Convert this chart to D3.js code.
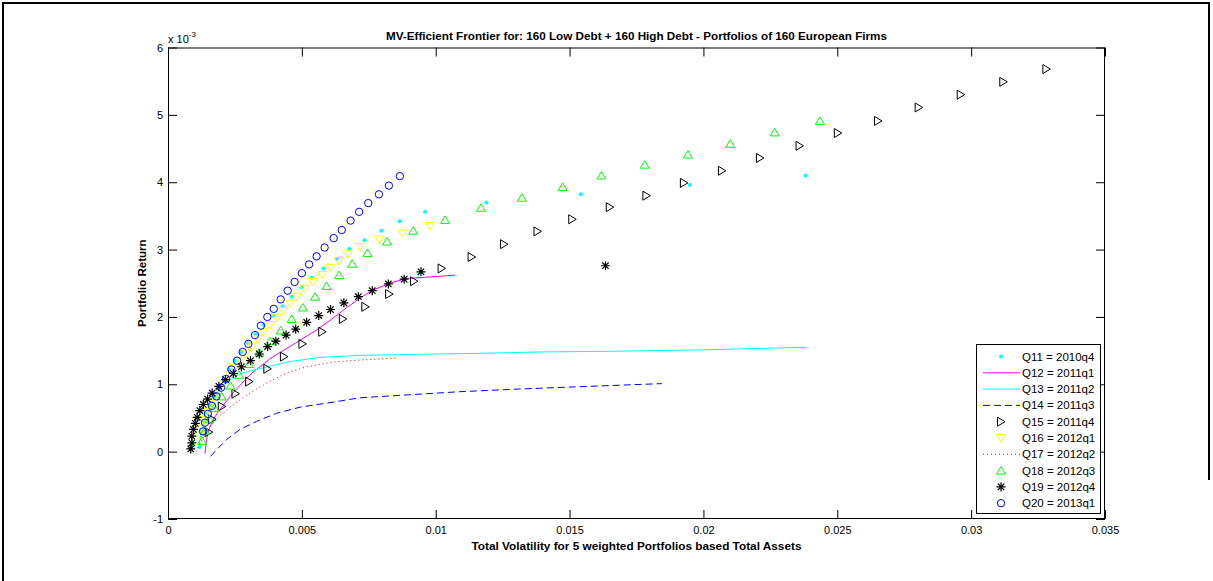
<!DOCTYPE html>
<html>
<head>
<meta charset="utf-8">
<script src="https://cdn.jsdelivr.net/npm/d3@7"></script>
<style>
  body { margin: 0; background: #fff; }
  svg { display: block; font-family: Arial, "Liberation Sans", sans-serif; }
  .tick text { font-size: 11px; fill: #000; }
  .tick line { stroke: #000; }
</style>
</head>
<body>
<svg id="chart" width="1213" height="581"></svg>
<script>
// returns are in units of 1e-3 (axis multiplier "x 10^-3")
let xTicks = [0, 0.005, 0.01, 0.015, 0.02, 0.025, 0.03, 0.035]
let xTickLabels = ["0", "0.005", "0.01", "0.015", "0.02", "0.025", "0.03", "0.035"]
let yTicks = [-1, 0, 1, 2, 3, 4, 5, 6]
let yTickLabels = ["-1", "0", "1", "2", "3", "4", "5", "6"]

let seriesNames = ["Q11 = 2010q4", "Q12 = 2011q1", "Q13 = 2011q2", "Q14 = 2011q3", "Q15 = 2011q4",
                   "Q16 = 2012q1", "Q17 = 2012q2", "Q18 = 2012q3", "Q19 = 2012q4", "Q20 = 2013q1"]

let q11 = [[0.00118,0.07],[0.00123,0.30],[0.00131,0.43],[0.00142,0.56],[0.00155,0.68],[0.00172,0.82],
  [0.00189,0.95],[0.00207,1.08],[0.00228,1.22],[0.00250,1.35],[0.00273,1.48],[0.00299,1.61],[0.00327,1.74],
  [0.00358,1.88],[0.00393,2.02],[0.00428,2.16],[0.00463,2.30],[0.00499,2.44],[0.00538,2.58],[0.00581,2.72],
  [0.00630,2.86],[0.00677,3.01],[0.00734,3.14],[0.00797,3.28],[0.00866,3.42],[0.00960,3.56],[0.01189,3.70],
  [0.01542,3.82],[0.01949,3.96],[0.02382,4.10]]

let q12 = [[0.00138,-0.03],[0.00144,0.18],[0.00153,0.33],[0.00168,0.47],[0.00187,0.59],[0.00205,0.68],
  [0.00228,0.80],[0.00254,0.92],[0.00284,1.05],[0.00314,1.17],[0.00347,1.27],[0.00381,1.38],[0.00422,1.48],
  [0.00467,1.59],[0.00512,1.70],[0.00556,1.81],[0.00609,1.96],[0.00665,2.13],[0.00717,2.28],[0.00766,2.40],
  [0.00829,2.50],[0.00889,2.57],[0.00963,2.59],[0.01072,2.62]]

let q13 = [[0.00116,0.09],[0.00123,0.27],[0.00138,0.46],[0.00157,0.65],[0.00179,0.83],[0.00217,1.04],
  [0.00280,1.17],[0.00351,1.24],[0.00444,1.33],[0.00568,1.40],[0.00717,1.43],[0.00866,1.44],[0.01016,1.45],
  [0.01165,1.46],[0.01389,1.48],[0.01662,1.49],[0.01987,1.51],[0.02386,1.55]]

let q14 = [[0.00159,-0.07],[0.00182,0.03],[0.00219,0.18],[0.00269,0.33],[0.00331,0.45],[0.00406,0.57],
  [0.00493,0.66],[0.00593,0.72],[0.00717,0.80],[0.00841,0.83],[0.00966,0.86],[0.01090,0.89],[0.01314,0.93],
  [0.01576,0.97],[0.01845,1.01]]

let q15 = [[0.00152,0.29],[0.00165,0.48],[0.00201,0.67],[0.00252,0.86],[0.00303,1.04],[0.00371,1.23],
  [0.00433,1.41],[0.00502,1.60],[0.00576,1.78],[0.00653,1.97],[0.00737,2.15],[0.00826,2.34],[0.00919,2.53],
  [0.01022,2.72],[0.01134,2.89],[0.01255,3.08],[0.01380,3.27],[0.01510,3.45],[0.01650,3.63],[0.01787,3.80],
  [0.01927,3.99],[0.02069,4.17],[0.02211,4.36],[0.02359,4.54],[0.02502,4.73],[0.02652,4.91],[0.02804,5.11],
  [0.02961,5.30],[0.03120,5.49],[0.03281,5.68]]

let q16 = [[0.00119,0.24],[0.00125,0.36],[0.00133,0.47],[0.00144,0.59],[0.00157,0.70],[0.00172,0.81],
  [0.00189,0.92],[0.00209,1.02],[0.00228,1.13],[0.00250,1.24],[0.00273,1.35],[0.00293,1.46],[0.00314,1.56],
  [0.00336,1.67],[0.00357,1.78],[0.00381,1.88],[0.00406,1.99],[0.00431,2.09],[0.00456,2.20],[0.00481,2.30],
  [0.00509,2.42],[0.00541,2.52],[0.00575,2.62],[0.00605,2.73],[0.00638,2.83],[0.00671,2.93],[0.00717,3.04],
  [0.00789,3.15],[0.00876,3.24],[0.00978,3.35]]

let q17 = [[0.00105,0.00],[0.00119,0.12],[0.00138,0.24],[0.00157,0.37],[0.00180,0.47],[0.00201,0.55],
  [0.00244,0.70],[0.00306,0.87],[0.00369,1.02],[0.00443,1.17],[0.00518,1.26],[0.00617,1.33],[0.00717,1.36],
  [0.00854,1.39]]

let q18 = [[0.00127,0.16],[0.00138,0.31],[0.00155,0.48],[0.00174,0.65],[0.00200,0.82],[0.00233,0.98],
  [0.00266,1.14],[0.00303,1.30],[0.00341,1.47],[0.00381,1.64],[0.00421,1.80],[0.00462,1.97],[0.00504,2.14],
  [0.00549,2.30],[0.00592,2.46],[0.00639,2.62],[0.00688,2.79],[0.00745,2.95],[0.00818,3.12],[0.00916,3.28],
  [0.01035,3.44],[0.01169,3.62],[0.01322,3.77],[0.01474,3.93],[0.01619,4.10],[0.01781,4.26],[0.01942,4.41],
  [0.02100,4.57],[0.02266,4.74],[0.02435,4.91]]

let q19 = [[0.00085,0.04],[0.00089,0.13],[0.00089,0.23],[0.00095,0.33],[0.00102,0.42],[0.00109,0.51],
  [0.00119,0.61],[0.00132,0.70],[0.00148,0.78],[0.00165,0.87],[0.00190,0.97],[0.00215,1.07],[0.00244,1.16],
  [0.00274,1.26],[0.00308,1.35],[0.00341,1.45],[0.00372,1.56],[0.00403,1.64],[0.00441,1.73],[0.00477,1.82],
  [0.00518,1.92],[0.00563,2.02],[0.00607,2.11],[0.00657,2.21],[0.00711,2.30],[0.00763,2.39],[0.00823,2.49],
  [0.00882,2.56],[0.00945,2.67],[0.01634,2.76]]

let q20 = [[0.00131,0.30],[0.00138,0.43],[0.00149,0.56],[0.00164,0.68],[0.00181,0.82],[0.00198,0.95],
  [0.00217,1.08],[0.00237,1.22],[0.00258,1.35],[0.00279,1.48],[0.00300,1.60],[0.00325,1.73],[0.00347,1.87],
  [0.00371,2.00],[0.00395,2.12],[0.00421,2.26],[0.00447,2.39],[0.00473,2.52],[0.00500,2.65],[0.00527,2.78],
  [0.00555,2.90],[0.00585,3.03],[0.00619,3.17],[0.00649,3.29],[0.00682,3.43],[0.00714,3.56],[0.00748,3.69],
  [0.00788,3.82],[0.00825,3.95],[0.00866,4.09]]

// plot style per series, in plotting order
let series = [
  { name: seriesNames[0], data: q11, color: "#00ffff", marker: "dot" },
  { name: seriesNames[1], data: q12, color: "#ff00ff", line: "solid" },
  { name: seriesNames[2], data: q13, color: "#00ffff", line: "solid" },
  { name: seriesNames[3], data: q14, color: "#0000ff", line: "dashed" },
  { name: seriesNames[4], data: q15, color: "#000000", marker: "right" },
  { name: seriesNames[5], data: q16, color: "#ffff00", marker: "down" },
  { name: seriesNames[6], data: q17, color: "#ff0000", line: "dotted" },
  { name: seriesNames[7], data: q18, color: "#00ff00", marker: "up" },
  { name: seriesNames[8], data: q19, color: "#000000", marker: "star" },
  { name: seriesNames[9], data: q20, color: "#0000ff", marker: "circle" }
]

let axLeft = 168, axRight = 1105, axTop = 47.5, axBottom = 519
let tickLen = 9

let x = d3.scaleLinear().domain([0, 0.035]).range([axLeft, axRight])
let y = d3.scaleLinear().domain([-1, 6]).range([axBottom, axTop])

let svg = d3.select("#chart")

// figure frame
svg.append("path")
   .attr("d", "M3,581V3H1209V480")
   .attr("fill", "none")
   .attr("stroke", "#000")
   .attr("stroke-width", 2)

// axes with inward ticks (box on)
let gx = svg.append("g").attr("transform", "translate(0," + axBottom + ")")
  .call(d3.axisBottom(x).tickValues(xTicks).tickFormat((d, i) => xTickLabels[i])
        .tickSizeInner(-tickLen).tickSizeOuter(0).tickPadding(7))
let gxTop = svg.append("g").attr("transform", "translate(0," + axTop + ")")
  .call(d3.axisTop(x).tickValues(xTicks).tickFormat("").tickSizeInner(-tickLen).tickSizeOuter(0))
let gy = svg.append("g").attr("transform", "translate(" + axLeft + ",0)")
  .call(d3.axisLeft(y).tickValues(yTicks).tickFormat((d, i) => yTickLabels[i])
        .tickSizeInner(-tickLen).tickSizeOuter(0).tickPadding(5))
let gyRight = svg.append("g").attr("transform", "translate(" + axRight + ",0)")
  .call(d3.axisRight(y).tickValues(yTicks).tickFormat("").tickSizeInner(-tickLen).tickSizeOuter(0))
;[gx, gxTop, gy, gyRight].forEach(g => g.select(".domain").remove())
gx.selectAll("text").attr("dy", "0.71em")

svg.append("rect")
   .attr("x", axLeft + 0.5).attr("y", axTop + 0.5)
   .attr("width", axRight - axLeft - 1).attr("height", axBottom - axTop - 1)
   .attr("fill", "none").attr("stroke", "#000")

// exponent label
let expo = svg.append("text").attr("x", axLeft).attr("y", 43).attr("font-size", 11)
expo.append("tspan").text("x 10")
expo.append("tspan").attr("dy", -6).attr("font-size", 8).text("-3")

// title and axis labels
svg.append("text")
   .attr("x", (axLeft + axRight) / 2).attr("y", 39.5)
   .attr("text-anchor", "middle").attr("font-size", 11.7).attr("font-weight", "bold")
   .text("MV-Efficient Frontier for: 160 Low Debt + 160 High Debt - Portfolios of 160 European Firms")

svg.append("text")
   .attr("x", (axLeft + axRight) / 2).attr("y", 550)
   .attr("text-anchor", "middle").attr("font-size", 11.8).attr("font-weight", "bold")
   .text("Total Volatility for 5 weighted Portfolios based Total Assets")

svg.append("text")
   .attr("transform", "translate(146," + (axTop + axBottom) / 2 + ") rotate(-90)")
   .attr("text-anchor", "middle").attr("font-size", 11.5).attr("font-weight", "bold")
   .text("Portfolio Return")

function markerPath(kind) {
  if (kind == "up") return "M0,-4L4.5,3.5L-4.5,3.5Z"
  if (kind == "down") return "M0,4L4.5,-3.5L-4.5,-3.5Z"
  if (kind == "right") return "M4,0L-3.5,-4.5L-3.5,4.5Z"
  if (kind == "star") return "M-4.5,0H4.5M0,-4.5V4.5M-3.2,-3.2L3.2,3.2M-3.2,3.2L3.2,-3.2"
  return null
}

function drawMarker(g, kind, color) {
  if (kind == "dot") {
    g.append("circle").attr("r", 2).attr("fill", color)
  } else if (kind == "circle") {
    g.append("circle").attr("r", 3.7).attr("fill", "none").attr("stroke", color)
  } else {
    g.append("path").attr("d", markerPath(kind)).attr("fill", "none").attr("stroke", color)
     .attr("stroke-width", kind == "star" ? 1.2 : 1)
  }
}

let dashes = { solid: null, dashed: "7,4", dotted: "1,3" }

let line = d3.line().x(d => x(d[0])).y(d => y(d[1]))

let plot = svg.append("g")
series.forEach(s => {
  if (s.line) {
    plot.append("path")
        .datum(s.data)
        .attr("d", line)
        .attr("fill", "none")
        .attr("stroke", s.color)
        .attr("stroke-width", 1)
        .attr("stroke-dasharray", dashes[s.line])
  } else {
    plot.append("g").selectAll("g")
        .data(s.data)
        .join("g")
        .attr("transform", d => "translate(" + x(d[0]) + "," + y(d[1]) + ")")
        .each(function() { drawMarker(d3.select(this), s.marker, s.color) })
  }
})

// legend
let legX = 976, legY = 344, legW = 124, legH = 169, rowH = 16.3
let legend = svg.append("g")
legend.append("rect")
      .attr("x", legX + 0.5).attr("y", legY + 0.5)
      .attr("width", legW).attr("height", legH)
      .attr("fill", "#fff").attr("stroke", "#000")

series.forEach((s, i) => {
  let cy = legY + 12.5 + i * rowH
  if (s.line) {
    legend.append("line")
          .attr("x1", legX + 7).attr("x2", legX + 44)
          .attr("y1", cy).attr("y2", cy)
          .attr("stroke", s.color)
          .attr("stroke-dasharray", dashes[s.line])
  } else {
    let g = legend.append("g").attr("transform", "translate(" + (legX + 25) + "," + cy + ")")
    drawMarker(g, s.marker, s.color)
  }
  legend.append("text")
        .attr("x", legX + 46).attr("y", cy + 4)
        .attr("font-size", 11.5)
        .text(s.name)
})
</script>
</body>
</html>
